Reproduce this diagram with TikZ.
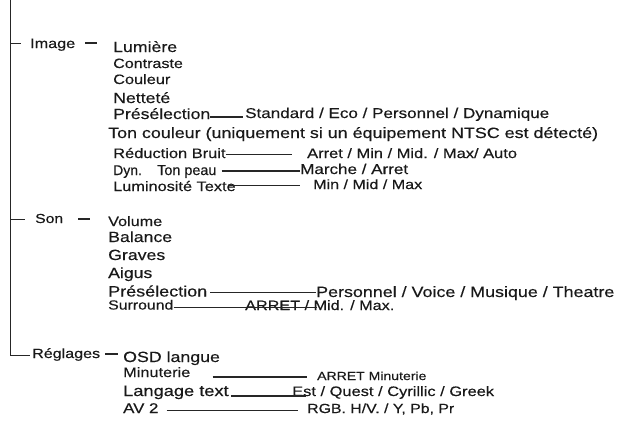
\documentclass[tikz,border=0pt]{standalone}
\usepackage{fontspec}
\setmainfont[FakeStretch=1.2,FakeBold=0.35]{Liberation Sans}
\newfontfamily\condfont[FakeBold=0.35]{Liberation Sans}
\tikzset{
  lbl/.style={anchor=base west, inner sep=0pt, text=black!90, font=\fontsize{#1}{#1}\selectfont},
  cnd/.style={anchor=base west, inner sep=0pt, text=black!90, font=\condfont\fontsize{#1}{#1}\selectfont},
  thinln/.style={line width=1pt, draw=black!85},
  thickln/.style={line width=2pt, draw=black!85},
}
\begin{document}
\begin{tikzpicture}[x=1pt,y=-1pt]
\useasboundingbox (0,0) rectangle (620,421);
% ---------- menu headings
\node[lbl=13.5] (image) at (30,48) {Image};
\node[lbl=13.1] (son) at (35,223) {Son};
\node[lbl=13.4] (regl) at (32,358) {Réglages};
% ---------- Image
\node[lbl=14.75] (lum) at (113,52) {Lumière};
\node[lbl=13.4] (contr) at (113,68) {Contraste};
\node[lbl=13.6] (coul) at (113,84) {Couleur};
\node[lbl=14.75] (nett) at (113,103) {Netteté};
\node[lbl=14.7] (ipre) at (113,119) {Présélection};
\node[lbl=14.2] (istd) at (245,118) {Standard / Eco / Personnel / Dynamique};
\node[lbl=14.9] (ton) at (108,138) {Ton couleur (uniquement si un équipement NTSC est détecté)};
\node[lbl=13.7] (redu) at (113,158) {Réduction Bruit};
\node[lbl=13.7] (redv) at (307,158) {Arret / Min / Mid. / Max/ Auto};
\node[cnd=14] (dyn) at (113,175) {Dyn.};
\node[cnd=14.4] (peau) at (157,175) {Ton peau};
\node[lbl=14.2] (peauv) at (300,174) {Marche / Arret};
\node[lbl=13.6] (lumt) at (113,191) {Luminosité Texte};
\node[lbl=13.4] (lumtv) at (313,189) {Min / Mid / Max};
% ---------- Son
\node[lbl=13.5] (vol) at (108,226) {Volume};
\node[lbl=14.75] (bal) at (108,242) {Balance};
\node[lbl=14.75] (grav) at (108,260) {Graves};
\node[lbl=14.7] (aig) at (108,278) {Aigus};
\node[lbl=15] (spre) at (108,296.5) {Présélection};
\node[lbl=14.9] (sprev) at (316,297) {Personnel / Voice / Musique / Theatre};
\node[lbl=13.2] (surr) at (108,309.5) {Surround};
\node[lbl=13.5] (surrv) at (245,310) {ARRET / Mid. / Max.};
% ---------- Réglages
\node[lbl=14.8] (osd) at (123,362) {OSD langue};
\node[lbl=13.6] (minu) at (123,377) {Minuterie};
\node[lbl=11.7] (minuv) at (317,380) {ARRET Minuterie};
\node[lbl=15.2] (lang) at (123,396) {Langage text};
\node[lbl=13.7] (langv) at (292,396) {Est / Quest / Cyrillic / Greek};
\node[lbl=14] (av) at (123,413) {AV 2};
\node[lbl=13.2] (avv) at (307,413) {RGB. H/V. / Y, Pb, Pr};
% ---------- connector end points
\coordinate (top) at (10,0);
\coordinate (tImg) at (10,43);
\coordinate (tSon) at (10,219);
\coordinate (tReg) at (10,355);
% trunk and branches
\draw[thinln] (top) -- (tReg) -- ([xshift=-2pt]regl.west |- tReg);
\draw[thinln] (tImg) -- ([xshift=-9pt]image.west |- tImg);
\draw[thinln] (tSon) -- ([xshift=-10pt]son.west |- tSon);
% heading dashes
\draw[line width=1.3pt, draw=black!85] ([xshift=10pt]image.east |- tImg) -- ([xshift=-16pt]lum.west |- tImg);
\draw[thickln] ([xshift=15pt]son.east |- tSon) -- ([xshift=-18pt]vol.west |- tSon);
\draw[thickln] ([xshift=5pt]regl.east |- 0,354) -- ([xshift=-5pt]osd.west |- 0,354);
% Image connectors
\draw[thickln] (ipre.east |- 0,117) -- ([xshift=-2pt]istd.west |- 0,117);
\draw[thinln] (redu.east |- 0,154) -- ([xshift=-15pt]redv.west |- 0,154);
\draw[thickln] ([xshift=5pt]peau.east |- 0,170.5) -- (peauv.west |- 0,170.5);
\draw[thinln] ([xshift=-7pt]lumt.east |- 0,185.5) -- ([xshift=-13pt]lumtv.west |- 0,185.5);
% Son connectors
\draw[thinln] ([xshift=3pt]spre.east |- 0,292) -- (sprev.west |- 0,292);
\draw[thinln] (surr.east |- 0,307.5) -- ([xshift=72pt]surrv.west |- 0,307.5);
% Réglages connectors
\draw[thickln] ([xshift=22pt]minu.east |- 0,377) -- ([xshift=-10pt]minuv.west |- 0,377);
\draw[thickln] ([xshift=2pt]lang.east |- 0,396) -- ([xshift=14pt]langv.west |- 0,396);
\draw[thinln] ([xshift=8pt]av.east |- 0,410) -- ([xshift=-9pt]avv.west |- 0,410);
\end{tikzpicture}
\end{document}
